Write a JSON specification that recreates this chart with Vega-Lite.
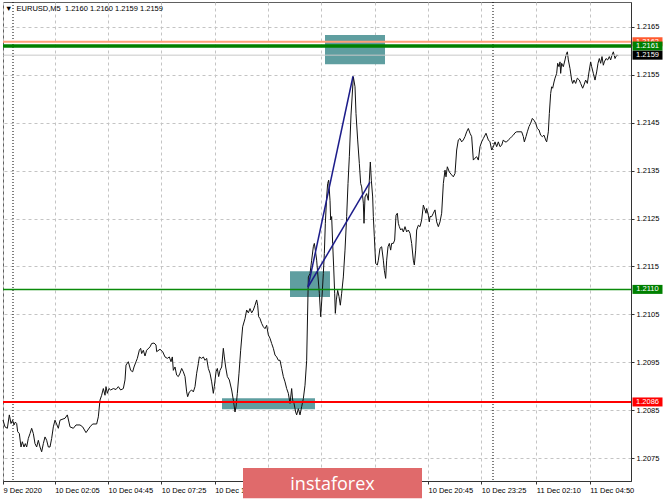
{
"$schema":"https://vega.github.io/schema/vega-lite/v6.json",
"width":628,"height":479,"autosize":{"type":"none"},
"padding":{"left":3,"top":2,"right":34,"bottom":18},
"background":"#ffffff",
"title":{"text":"▼\u00a0 EURUSD,M5\u00a0\u00a01.2160 1.2160 1.2159 1.2159","anchor":"start","frame":"group","orient":"top","offset":-17,"baseline":"alphabetic","dx":2,"fontSize":7.5,"fontWeight":"normal","font":"Liberation Sans","color":"#000000"},
"config":{"view":{"stroke":"#606060","strokeWidth":1},"font":"Liberation Sans"},
"datasets":{
"price":[
{"t":"2020-12-09T23:30Z","p":1.20829},{"t":"2020-12-09T23:36Z","p":1.20815},{"t":"2020-12-09T23:43Z","p":1.20812},{"t":"2020-12-09T23:49Z","p":1.2084},{"t":"2020-12-09T23:54Z","p":1.20822},{"t":"2020-12-09T23:59Z","p":1.20829},
{"t":"2020-12-10T00:03Z","p":1.20819},{"t":"2020-12-10T00:07Z","p":1.20825},{"t":"2020-12-10T00:11Z","p":1.20822},{"t":"2020-12-10T00:14Z","p":1.20805},{"t":"2020-12-10T00:19Z","p":1.20801},{"t":"2020-12-10T00:24Z","p":1.20773},{"t":"2020-12-10T00:28Z","p":1.20784},{"t":"2020-12-10T00:33Z","p":1.20773},{"t":"2020-12-10T00:37Z","p":1.2078},{"t":"2020-12-10T00:41Z","p":1.20773},{"t":"2020-12-10T00:46Z","p":1.20791},{"t":"2020-12-10T00:51Z","p":1.20801},{"t":"2020-12-10T00:56Z","p":1.20812},
{"t":"2020-12-10T01:01Z","p":1.20801},{"t":"2020-12-10T01:06Z","p":1.2078},{"t":"2020-12-10T01:11Z","p":1.20773},{"t":"2020-12-10T01:16Z","p":1.20787},{"t":"2020-12-10T01:21Z","p":1.20773},{"t":"2020-12-10T01:26Z","p":1.20763},{"t":"2020-12-10T01:31Z","p":1.2078},{"t":"2020-12-10T01:36Z","p":1.20794},{"t":"2020-12-10T01:41Z","p":1.20787},{"t":"2020-12-10T01:46Z","p":1.20773},{"t":"2020-12-10T01:51Z","p":1.20773},{"t":"2020-12-10T01:56Z","p":1.20791},
{"t":"2020-12-10T02:01Z","p":1.20815},{"t":"2020-12-10T02:06Z","p":1.20829},{"t":"2020-12-10T02:16Z","p":1.20812},{"t":"2020-12-10T02:21Z","p":1.20829},{"t":"2020-12-10T02:36Z","p":1.20833},{"t":"2020-12-10T02:43Z","p":1.2084},{"t":"2020-12-10T02:51Z","p":1.20815},
{"t":"2020-12-10T03:01Z","p":1.20812},{"t":"2020-12-10T03:09Z","p":1.20819},{"t":"2020-12-10T03:21Z","p":1.20819},{"t":"2020-12-10T03:29Z","p":1.20815},{"t":"2020-12-10T03:39Z","p":1.20803},{"t":"2020-12-10T03:51Z","p":1.20815},{"t":"2020-12-10T03:59Z","p":1.20821},
{"t":"2020-12-10T04:11Z","p":1.20821},{"t":"2020-12-10T04:16Z","p":1.20836},{"t":"2020-12-10T04:21Z","p":1.20871},{"t":"2020-12-10T04:26Z","p":1.20881},{"t":"2020-12-10T04:31Z","p":1.20895},{"t":"2020-12-10T04:36Z","p":1.20881},{"t":"2020-12-10T04:39Z","p":1.20899},{"t":"2020-12-10T04:43Z","p":1.20885},{"t":"2020-12-10T04:48Z","p":1.20895},{"t":"2020-12-10T04:53Z","p":1.20892},
{"t":"2020-12-10T05:01Z","p":1.20895},{"t":"2020-12-10T05:09Z","p":1.20893},{"t":"2020-12-10T05:16Z","p":1.20899},{"t":"2020-12-10T05:23Z","p":1.20892},{"t":"2020-12-10T05:31Z","p":1.20895},{"t":"2020-12-10T05:36Z","p":1.20913},{"t":"2020-12-10T05:39Z","p":1.20944},{"t":"2020-12-10T05:46Z","p":1.20951},{"t":"2020-12-10T05:53Z","p":1.20933},{"t":"2020-12-10T05:59Z","p":1.2093},
{"t":"2020-12-10T06:03Z","p":1.2094},{"t":"2020-12-10T06:09Z","p":1.20951},{"t":"2020-12-10T06:13Z","p":1.20958},{"t":"2020-12-10T06:19Z","p":1.20975},{"t":"2020-12-10T06:23Z","p":1.20979},{"t":"2020-12-10T06:26Z","p":1.20968},{"t":"2020-12-10T06:31Z","p":1.20975},{"t":"2020-12-10T06:36Z","p":1.20963},{"t":"2020-12-10T06:41Z","p":1.20975},{"t":"2020-12-10T06:51Z","p":1.20982},{"t":"2020-12-10T06:56Z","p":1.20989},
{"t":"2020-12-10T07:03Z","p":1.2099},{"t":"2020-12-10T07:09Z","p":1.20986},{"t":"2020-12-10T07:11Z","p":1.20972},{"t":"2020-12-10T07:21Z","p":1.20977},{"t":"2020-12-10T07:29Z","p":1.20972},{"t":"2020-12-10T07:36Z","p":1.20961},{"t":"2020-12-10T07:43Z","p":1.20958},{"t":"2020-12-10T07:49Z","p":1.20961},{"t":"2020-12-10T07:54Z","p":1.20951},{"t":"2020-12-10T07:58Z","p":1.20961},
{"t":"2020-12-10T08:01Z","p":1.20933},{"t":"2020-12-10T08:06Z","p":1.2094},{"t":"2020-12-10T08:11Z","p":1.20923},{"t":"2020-12-10T08:16Z","p":1.2092},{"t":"2020-12-10T08:21Z","p":1.20927},{"t":"2020-12-10T08:26Z","p":1.20937},{"t":"2020-12-10T08:31Z","p":1.2093},{"t":"2020-12-10T08:36Z","p":1.2092},{"t":"2020-12-10T08:41Z","p":1.20888},{"t":"2020-12-10T08:44Z","p":1.20878},{"t":"2020-12-10T08:49Z","p":1.20888},{"t":"2020-12-10T08:56Z","p":1.20892},
{"t":"2020-12-10T09:01Z","p":1.20888},{"t":"2020-12-10T09:06Z","p":1.20899},{"t":"2020-12-10T09:11Z","p":1.20927},{"t":"2020-12-10T09:16Z","p":1.20947},{"t":"2020-12-10T09:19Z","p":1.20961},{"t":"2020-12-10T09:26Z","p":1.20958},{"t":"2020-12-10T09:31Z","p":1.20961},{"t":"2020-12-10T09:36Z","p":1.20954},{"t":"2020-12-10T09:41Z","p":1.20958},{"t":"2020-12-10T09:46Z","p":1.20937},{"t":"2020-12-10T09:51Z","p":1.20927},{"t":"2020-12-10T09:56Z","p":1.20909},
{"t":"2020-12-10T10:01Z","p":1.20885},{"t":"2020-12-10T10:04Z","p":1.20899},{"t":"2020-12-10T10:09Z","p":1.2093},{"t":"2020-12-10T10:13Z","p":1.20937},{"t":"2020-12-10T10:17Z","p":1.2092},{"t":"2020-12-10T10:21Z","p":1.20933},{"t":"2020-12-10T10:26Z","p":1.2094},{"t":"2020-12-10T10:31Z","p":1.20979},{"t":"2020-12-10T10:34Z","p":1.20961},{"t":"2020-12-10T10:38Z","p":1.2094},{"t":"2020-12-10T10:43Z","p":1.2092},{"t":"2020-12-10T10:49Z","p":1.20913},{"t":"2020-12-10T10:56Z","p":1.20892},
{"t":"2020-12-10T11:01Z","p":1.20871},{"t":"2020-12-10T11:06Z","p":1.20846},{"t":"2020-12-10T11:09Z","p":1.20857},{"t":"2020-12-10T11:13Z","p":1.20885},{"t":"2020-12-10T11:18Z","p":1.20927},{"t":"2020-12-10T11:23Z","p":1.20975},{"t":"2020-12-10T11:29Z","p":1.21024},{"t":"2020-12-10T11:36Z","p":1.21041},{"t":"2020-12-10T11:41Z","p":1.21059},{"t":"2020-12-10T11:46Z","p":1.21053},{"t":"2020-12-10T11:51Z","p":1.21062},{"t":"2020-12-10T11:56Z","p":1.21053},
{"t":"2020-12-10T12:01Z","p":1.21059},{"t":"2020-12-10T12:06Z","p":1.21069},{"t":"2020-12-10T12:11Z","p":1.2108},{"t":"2020-12-10T12:14Z","p":1.21069},{"t":"2020-12-10T12:17Z","p":1.21045},{"t":"2020-12-10T12:21Z","p":1.21041},{"t":"2020-12-10T12:26Z","p":1.21031},{"t":"2020-12-10T12:31Z","p":1.21024},{"t":"2020-12-10T12:36Z","p":1.2102},{"t":"2020-12-10T12:41Z","p":1.21027},{"t":"2020-12-10T12:46Z","p":1.21007},{"t":"2020-12-10T12:51Z","p":1.21},{"t":"2020-12-10T12:56Z","p":1.20989},
{"t":"2020-12-10T13:01Z","p":1.20979},{"t":"2020-12-10T13:06Z","p":1.20965},{"t":"2020-12-10T13:11Z","p":1.20961},{"t":"2020-12-10T13:16Z","p":1.20954},{"t":"2020-12-10T13:21Z","p":1.20954},{"t":"2020-12-10T13:26Z","p":1.20937},{"t":"2020-12-10T13:31Z","p":1.2092},{"t":"2020-12-10T13:36Z","p":1.20909},{"t":"2020-12-10T13:41Z","p":1.20895},{"t":"2020-12-10T13:46Z","p":1.20885},{"t":"2020-12-10T13:51Z","p":1.20864},{"t":"2020-12-10T13:56Z","p":1.20895},{"t":"2020-12-10T13:59Z","p":1.20871},
{"t":"2020-12-10T14:03Z","p":1.20864},{"t":"2020-12-10T14:08Z","p":1.20846},{"t":"2020-12-10T14:11Z","p":1.2084},{"t":"2020-12-10T14:16Z","p":1.20853},{"t":"2020-12-10T14:21Z","p":1.2084},{"t":"2020-12-10T14:26Z","p":1.20857},{"t":"2020-12-10T14:31Z","p":1.20874},{"t":"2020-12-10T14:36Z","p":1.20902},{"t":"2020-12-10T14:41Z","p":1.20954},{"t":"2020-12-10T14:46Z","p":1.21128},{"t":"2020-12-10T14:51Z","p":1.21135},{"t":"2020-12-10T14:56Z","p":1.21163},
{"t":"2020-12-10T15:01Z","p":1.21191},{"t":"2020-12-10T15:04Z","p":1.21198},{"t":"2020-12-10T15:07Z","p":1.21184},{"t":"2020-12-10T15:11Z","p":1.21163},{"t":"2020-12-10T15:15Z","p":1.21128},{"t":"2020-12-10T15:19Z","p":1.21094},{"t":"2020-12-10T15:23Z","p":1.21045},{"t":"2020-12-10T15:27Z","p":1.21087},{"t":"2020-12-10T15:31Z","p":1.21135},{"t":"2020-12-10T15:34Z","p":1.21177},{"t":"2020-12-10T15:37Z","p":1.2124},{"t":"2020-12-10T15:41Z","p":1.21295},{"t":"2020-12-10T15:44Z","p":1.21323},{"t":"2020-12-10T15:47Z","p":1.2133},{"t":"2020-12-10T15:51Z","p":1.21288},{"t":"2020-12-10T15:53Z","p":1.21247},{"t":"2020-12-10T15:56Z","p":1.21254},{"t":"2020-12-10T15:59Z","p":1.21198},
{"t":"2020-12-10T16:02Z","p":1.21149},{"t":"2020-12-10T16:05Z","p":1.21094},{"t":"2020-12-10T16:07Z","p":1.21052},{"t":"2020-12-10T16:10Z","p":1.2108},{"t":"2020-12-10T16:14Z","p":1.211},{"t":"2020-12-10T16:18Z","p":1.21087},{"t":"2020-12-10T16:22Z","p":1.21069},{"t":"2020-12-10T16:26Z","p":1.21094},{"t":"2020-12-10T16:31Z","p":1.21128},{"t":"2020-12-10T16:36Z","p":1.21184},{"t":"2020-12-10T16:41Z","p":1.21254},{"t":"2020-12-10T16:45Z","p":1.21323},{"t":"2020-12-10T16:49Z","p":1.21379},{"t":"2020-12-10T16:54Z","p":1.21466},
{"t":"2020-12-10T17:01Z","p":1.21546},{"t":"2020-12-10T17:06Z","p":1.21525},{"t":"2020-12-10T17:09Z","p":1.21469},{"t":"2020-12-10T17:14Z","p":1.21414},{"t":"2020-12-10T17:19Z","p":1.21365},{"t":"2020-12-10T17:23Z","p":1.21323},{"t":"2020-12-10T17:26Z","p":1.21316},{"t":"2020-12-10T17:31Z","p":1.21282},{"t":"2020-12-10T17:33Z","p":1.2124},{"t":"2020-12-10T17:36Z","p":1.21295},{"t":"2020-12-10T17:41Z","p":1.21302},{"t":"2020-12-10T17:46Z","p":1.21288},{"t":"2020-12-10T17:49Z","p":1.2133},{"t":"2020-12-10T17:52Z","p":1.21368},{"t":"2020-12-10T17:55Z","p":1.2133},{"t":"2020-12-10T17:59Z","p":1.21295},
{"t":"2020-12-10T18:01Z","p":1.21254},{"t":"2020-12-10T18:04Z","p":1.21212},{"t":"2020-12-10T18:08Z","p":1.21156},{"t":"2020-12-10T18:13Z","p":1.21153},{"t":"2020-12-10T18:16Z","p":1.21163},{"t":"2020-12-10T18:21Z","p":1.21188},{"t":"2020-12-10T18:26Z","p":1.21191},{"t":"2020-12-10T18:31Z","p":1.21163},{"t":"2020-12-10T18:34Z","p":1.21142},{"t":"2020-12-10T18:38Z","p":1.21125},{"t":"2020-12-10T18:41Z","p":1.21163},{"t":"2020-12-10T18:45Z","p":1.21191},{"t":"2020-12-10T18:49Z","p":1.21198},{"t":"2020-12-10T18:53Z","p":1.21184},{"t":"2020-12-10T18:56Z","p":1.21198},
{"t":"2020-12-10T19:01Z","p":1.21198},{"t":"2020-12-10T19:05Z","p":1.21205},{"t":"2020-12-10T19:09Z","p":1.21257},{"t":"2020-12-10T19:13Z","p":1.21261},{"t":"2020-12-10T19:16Z","p":1.2124},{"t":"2020-12-10T19:19Z","p":1.21233},{"t":"2020-12-10T19:23Z","p":1.21226},{"t":"2020-12-10T19:27Z","p":1.21229},{"t":"2020-12-10T19:31Z","p":1.21222},{"t":"2020-12-10T19:36Z","p":1.21233},{"t":"2020-12-10T19:41Z","p":1.21222},{"t":"2020-12-10T19:46Z","p":1.21226},{"t":"2020-12-10T19:51Z","p":1.21219},{"t":"2020-12-10T19:56Z","p":1.21198},
{"t":"2020-12-10T20:01Z","p":1.21163},{"t":"2020-12-10T20:04Z","p":1.21153},{"t":"2020-12-10T20:08Z","p":1.21184},{"t":"2020-12-10T20:11Z","p":1.21226},{"t":"2020-12-10T20:16Z","p":1.21236},{"t":"2020-12-10T20:21Z","p":1.21233},{"t":"2020-12-10T20:26Z","p":1.21247},{"t":"2020-12-10T20:31Z","p":1.21278},{"t":"2020-12-10T20:36Z","p":1.21268},{"t":"2020-12-10T20:39Z","p":1.21261},{"t":"2020-12-10T20:41Z","p":1.21271},{"t":"2020-12-10T20:46Z","p":1.21257},{"t":"2020-12-10T20:49Z","p":1.21243},{"t":"2020-12-10T20:51Z","p":1.21254},{"t":"2020-12-10T20:56Z","p":1.21254},
{"t":"2020-12-10T21:01Z","p":1.21261},{"t":"2020-12-10T21:06Z","p":1.21268},{"t":"2020-12-10T21:11Z","p":1.21243},{"t":"2020-12-10T21:16Z","p":1.21233},{"t":"2020-12-10T21:21Z","p":1.21243},{"t":"2020-12-10T21:26Z","p":1.21261},{"t":"2020-12-10T21:31Z","p":1.21323},{"t":"2020-12-10T21:36Z","p":1.21351},{"t":"2020-12-10T21:39Z","p":1.21337},{"t":"2020-12-10T21:43Z","p":1.21358},{"t":"2020-12-10T21:49Z","p":1.21347},{"t":"2020-12-10T21:56Z","p":1.21341},
{"t":"2020-12-10T22:01Z","p":1.21337},{"t":"2020-12-10T22:06Z","p":1.21344},{"t":"2020-12-10T22:11Z","p":1.21393},{"t":"2020-12-10T22:16Z","p":1.21414},{"t":"2020-12-10T22:21Z","p":1.21417},{"t":"2020-12-10T22:26Z","p":1.2141},{"t":"2020-12-10T22:31Z","p":1.21414},{"t":"2020-12-10T22:36Z","p":1.21421},{"t":"2020-12-10T22:41Z","p":1.21431},{"t":"2020-12-10T22:46Z","p":1.21438},{"t":"2020-12-10T22:51Z","p":1.21428},{"t":"2020-12-10T22:56Z","p":1.21421},
{"t":"2020-12-10T23:01Z","p":1.21372},{"t":"2020-12-10T23:06Z","p":1.21376},{"t":"2020-12-10T23:11Z","p":1.21379},{"t":"2020-12-10T23:16Z","p":1.21372},{"t":"2020-12-10T23:21Z","p":1.214},{"t":"2020-12-10T23:26Z","p":1.2141},{"t":"2020-12-10T23:31Z","p":1.21417},{"t":"2020-12-10T23:39Z","p":1.21428},{"t":"2020-12-10T23:46Z","p":1.21414},{"t":"2020-12-10T23:51Z","p":1.2141},{"t":"2020-12-10T23:56Z","p":1.21393},
{"t":"2020-12-11T00:01Z","p":1.214},{"t":"2020-12-11T00:06Z","p":1.2141},{"t":"2020-12-11T00:11Z","p":1.214},{"t":"2020-12-11T00:16Z","p":1.2141},{"t":"2020-12-11T00:21Z","p":1.214},{"t":"2020-12-11T00:26Z","p":1.21403},{"t":"2020-12-11T00:31Z","p":1.21414},{"t":"2020-12-11T00:36Z","p":1.2141},{"t":"2020-12-11T00:41Z","p":1.2141},{"t":"2020-12-11T00:46Z","p":1.21414},{"t":"2020-12-11T00:51Z","p":1.21417},{"t":"2020-12-11T00:56Z","p":1.21421},
{"t":"2020-12-11T01:01Z","p":1.21424},{"t":"2020-12-11T01:06Z","p":1.21429},{"t":"2020-12-11T01:11Z","p":1.21431},{"t":"2020-12-11T01:26Z","p":1.21431},{"t":"2020-12-11T01:31Z","p":1.21421},{"t":"2020-12-11T01:34Z","p":1.2141},{"t":"2020-12-11T01:39Z","p":1.21421},{"t":"2020-12-11T01:43Z","p":1.21431},{"t":"2020-12-11T01:48Z","p":1.21442},{"t":"2020-12-11T01:53Z","p":1.21449},{"t":"2020-12-11T01:58Z","p":1.21459},
{"t":"2020-12-11T02:03Z","p":1.21455},{"t":"2020-12-11T02:08Z","p":1.21449},{"t":"2020-12-11T02:13Z","p":1.21438},{"t":"2020-12-11T02:18Z","p":1.21435},{"t":"2020-12-11T02:23Z","p":1.21424},{"t":"2020-12-11T02:28Z","p":1.21421},{"t":"2020-12-11T02:33Z","p":1.21424},{"t":"2020-12-11T02:38Z","p":1.21414},{"t":"2020-12-11T02:41Z","p":1.2141},{"t":"2020-12-11T02:46Z","p":1.21431},{"t":"2020-12-11T02:49Z","p":1.21469},{"t":"2020-12-11T02:53Z","p":1.21511},{"t":"2020-12-11T02:56Z","p":1.21525},{"t":"2020-12-11T02:59Z","p":1.21522},
{"t":"2020-12-11T03:03Z","p":1.21535},{"t":"2020-12-11T03:06Z","p":1.21543},{"t":"2020-12-11T03:11Z","p":1.21553},{"t":"2020-12-11T03:14Z","p":1.21574},{"t":"2020-12-11T03:18Z","p":1.21567},{"t":"2020-12-11T03:21Z","p":1.21577},{"t":"2020-12-11T03:23Z","p":1.21553},{"t":"2020-12-11T03:26Z","p":1.21574},{"t":"2020-12-11T03:31Z","p":1.21567},{"t":"2020-12-11T03:36Z","p":1.21581},{"t":"2020-12-11T03:39Z","p":1.21591},{"t":"2020-12-11T03:43Z","p":1.21598},{"t":"2020-12-11T03:46Z","p":1.21581},{"t":"2020-12-11T03:51Z","p":1.21563},{"t":"2020-12-11T03:56Z","p":1.21539},{"t":"2020-12-11T03:59Z","p":1.21532},
{"t":"2020-12-11T04:03Z","p":1.21539},{"t":"2020-12-11T04:08Z","p":1.21532},{"t":"2020-12-11T04:13Z","p":1.21543},{"t":"2020-12-11T04:19Z","p":1.21539},{"t":"2020-12-11T04:23Z","p":1.21532},{"t":"2020-12-11T04:29Z","p":1.21522},{"t":"2020-12-11T04:33Z","p":1.21529},{"t":"2020-12-11T04:38Z","p":1.21539},{"t":"2020-12-11T04:43Z","p":1.21532},{"t":"2020-12-11T04:48Z","p":1.21556},{"t":"2020-12-11T04:53Z","p":1.21577},{"t":"2020-12-11T04:56Z","p":1.21567},
{"t":"2020-12-11T05:01Z","p":1.21553},{"t":"2020-12-11T05:06Z","p":1.21539},{"t":"2020-12-11T05:11Z","p":1.21556},{"t":"2020-12-11T05:15Z","p":1.21574},{"t":"2020-12-11T05:19Z","p":1.21584},{"t":"2020-12-11T05:23Z","p":1.21574},{"t":"2020-12-11T05:27Z","p":1.21588},{"t":"2020-12-11T05:31Z","p":1.2157},{"t":"2020-12-11T05:34Z","p":1.21577},{"t":"2020-12-11T05:39Z","p":1.21584},{"t":"2020-12-11T05:44Z","p":1.21581},{"t":"2020-12-11T05:49Z","p":1.21588},{"t":"2020-12-11T05:53Z","p":1.21581},{"t":"2020-12-11T05:57Z","p":1.21591},
{"t":"2020-12-11T06:01Z","p":1.21598},{"t":"2020-12-11T06:06Z","p":1.21584},{"t":"2020-12-11T06:11Z","p":1.21591},{"t":"2020-12-11T06:16Z","p":1.2159}
],
"zones":[
{"t1":"2020-12-10T15:36Z","t2":"2020-12-10T18:36Z","p1":1.21633,"p2":1.21572},
{"t1":"2020-12-10T13:51Z","t2":"2020-12-10T15:51Z","p1":1.2114,"p2":1.21086},
{"t1":"2020-12-10T10:27Z","t2":"2020-12-10T15:06Z","p1":1.20875,"p2":1.20852}
],
"trend":[
{"t1":"2020-12-10T14:45Z","t2":"2020-12-10T17:00Z","p1":1.21107,"p2":1.21547},
{"t1":"2020-12-10T14:45Z","t2":"2020-12-10T17:51Z","p1":1.21107,"p2":1.21326}
],
"days":[{"t":"2020-12-10T00:00Z"},{"t":"2020-12-11T00:00Z"}],
"levels":[
{"name":"ask","p":1.21619,"label":"1.2162"},
{"name":"upper","p":1.2161,"label":"1.2161"},
{"name":"bid","p":1.21591,"label":"1.2159"},
{"name":"middle","p":1.21102,"label":"1.2110"},
{"name":"lower","p":1.20867,"label":"1.2086"}
]
},
"layer":[
{"data":{"name":"zones"},
 "mark":{"type":"rect","color":"#5f9ea0","opacity":1},
 "encoding":{
  "x":{"field":"t1","type":"temporal","title":null,
   "scale":{"type":"utc","domain":[{"year":2020,"month":12,"date":9,"hours":23,"minutes":30,"utc":true},{"year":2020,"month":12,"date":11,"hours":6,"minutes":54,"utc":true}]},
   "axis":{"values":[
     {"year":2020,"month":12,"date":9,"hours":23,"minutes":30,"utc":true},
     {"year":2020,"month":12,"date":10,"hours":2,"minutes":5,"utc":true},
     {"year":2020,"month":12,"date":10,"hours":4,"minutes":45,"utc":true},
     {"year":2020,"month":12,"date":10,"hours":7,"minutes":25,"utc":true},
     {"year":2020,"month":12,"date":10,"hours":10,"minutes":5,"utc":true},
     {"year":2020,"month":12,"date":10,"hours":12,"minutes":45,"utc":true},
     {"year":2020,"month":12,"date":10,"hours":15,"minutes":25,"utc":true},
     {"year":2020,"month":12,"date":10,"hours":18,"minutes":5,"utc":true},
     {"year":2020,"month":12,"date":10,"hours":20,"minutes":45,"utc":true},
     {"year":2020,"month":12,"date":10,"hours":23,"minutes":25,"utc":true},
     {"year":2020,"month":12,"date":11,"hours":2,"minutes":10,"utc":true},
     {"year":2020,"month":12,"date":11,"hours":4,"minutes":50,"utc":true}],
    "labelExpr":"datum.value < 1607558400000 ? '9 Dec 2020' : utcFormat(datum.value, '%-d %b %H:%M')",
    "labelAlign":"left","labelBaseline":"top","labelFlush":false,"labelOverlap":false,"labelBound":false,
    "labelFont":"Liberation Sans","labelFontSize":7.5,"labelColor":"#000000","labelPadding":2,
    "tickSize":3,"tickColor":"#333333","domainColor":"#333333",
    "grid":true,"gridColor":"#c4c4c4","gridDash":[3,3]}},
  "x2":{"field":"t2"},
  "y":{"field":"p1","type":"quantitative","title":null,
   "scale":{"domain":[1.20702,1.21702],"nice":false,"zero":false},
   "axis":{"orient":"right","values":[1.2075,1.2085,1.2095,1.2105,1.2115,1.2125,1.2135,1.2145,1.2155,1.2165],
    "format":".4f","labelAlign":"left","labelBaseline":"middle","labelFlush":false,"labelOverlap":false,
    "labelFont":"Liberation Sans","labelFontSize":7.5,"labelColor":"#000000","labelPadding":2,
    "tickSize":3,"tickColor":"#333333","domainColor":"#333333",
    "grid":true,"gridColor":"#c4c4c4","gridDash":[3,3]}},
  "y2":{"field":"p2"}}},
{"data":{"name":"days"},
 "mark":{"type":"rule","color":"#000000","strokeDash":[1,2],"strokeWidth":1},
 "encoding":{"x":{"field":"t","type":"temporal","title":null}}},
{"data":{"name":"price"},
 "mark":{"type":"line","color":"#111111","strokeWidth":1},
 "encoding":{"x":{"field":"t","type":"temporal","title":null},"y":{"field":"p","type":"quantitative","title":null}}},
{"data":{"name":"levels"},
 "mark":{"type":"rule"},
 "encoding":{"y":{"field":"p","type":"quantitative","title":null},
  "stroke":{"field":"name","type":"nominal","legend":null,"scale":{"domain":["ask","upper","bid","middle","lower"],"range":["#ffa07a","#008000","#c8c8c8","#0a8a0a","#ff0000"]}},
  "strokeWidth":{"field":"name","type":"nominal","legend":null,"scale":{"type":"ordinal","domain":["ask","upper","bid","middle","lower"],"range":[2,3.5,1,1.5,2]}}}},
{"data":{"name":"trend"},
 "mark":{"type":"rule","color":"#1c1c8a","strokeWidth":1.5},
 "encoding":{"x":{"field":"t1","type":"temporal","title":null},"x2":{"field":"t2"},"y":{"field":"p1","type":"quantitative","title":null},"y2":{"field":"p2"}}},
{"data":{"name":"levels"},
 "transform":[{"filter":"datum.name == 'ask'"}],
 "layer":[
  {"mark":{"type":"tick","orient":"horizontal","size":30,"thickness":9,"opacity":1,"color":"#ff5a2e"},
   "encoding":{"x":{"datum":{"year":2020,"month":12,"date":11,"hours":7,"minutes":43,"seconds":30,"utc":true},"type":"temporal"},"y":{"field":"p","type":"quantitative","title":null}}},
  {"mark":{"type":"text","color":"#ffffff","fontSize":7.5,"align":"center","baseline":"middle","font":"Liberation Sans"},
   "encoding":{"x":{"datum":{"year":2020,"month":12,"date":11,"hours":7,"minutes":43,"seconds":30,"utc":true},"type":"temporal"},"y":{"field":"p","type":"quantitative","title":null},"text":{"field":"label"}}}]},
{"data":{"name":"levels"},
 "transform":[{"filter":"datum.name != 'ask'"}],
 "layer":[
  {"mark":{"type":"tick","orient":"horizontal","size":30,"thickness":9,"opacity":1},
   "encoding":{"x":{"datum":{"year":2020,"month":12,"date":11,"hours":7,"minutes":43,"seconds":30,"utc":true},"type":"temporal"},"y":{"field":"p","type":"quantitative","title":null},
    "fill":{"field":"name","type":"nominal","legend":null,"scale":{"domain":["upper","bid","middle","lower"],"range":["#008000","#000000","#008000","#ff0000"]}}}},
  {"mark":{"type":"text","color":"#ffffff","fontSize":7.5,"align":"center","baseline":"middle","font":"Liberation Sans"},
   "encoding":{"x":{"datum":{"year":2020,"month":12,"date":11,"hours":7,"minutes":43,"seconds":30,"utc":true},"type":"temporal"},"y":{"field":"p","type":"quantitative","title":null},"text":{"field":"label"}}}]},
{"data":{"values":[{}]},
 "layer":[
  {"mark":{"type":"rect","color":"#e06a6b","opacity":1},
   "encoding":{"x":{"datum":{"year":2020,"month":12,"date":10,"hours":11,"minutes":30,"utc":true},"type":"temporal"},
    "x2":{"datum":{"year":2020,"month":12,"date":10,"hours":20,"minutes":27,"utc":true}},
    "y":{"datum":1.20729,"type":"quantitative"},"y2":{"datum":1.20666}}},
  {"mark":{"type":"text","text":"instaforex","color":"#ffffff","fontSize":18,"font":"Open Sans","align":"center","baseline":"alphabetic"},
   "encoding":{"x":{"datum":{"year":2020,"month":12,"date":10,"hours":15,"minutes":58,"seconds":30,"utc":true},"type":"temporal"},
    "y":{"datum":1.20684,"type":"quantitative"}}}]}
]
}
